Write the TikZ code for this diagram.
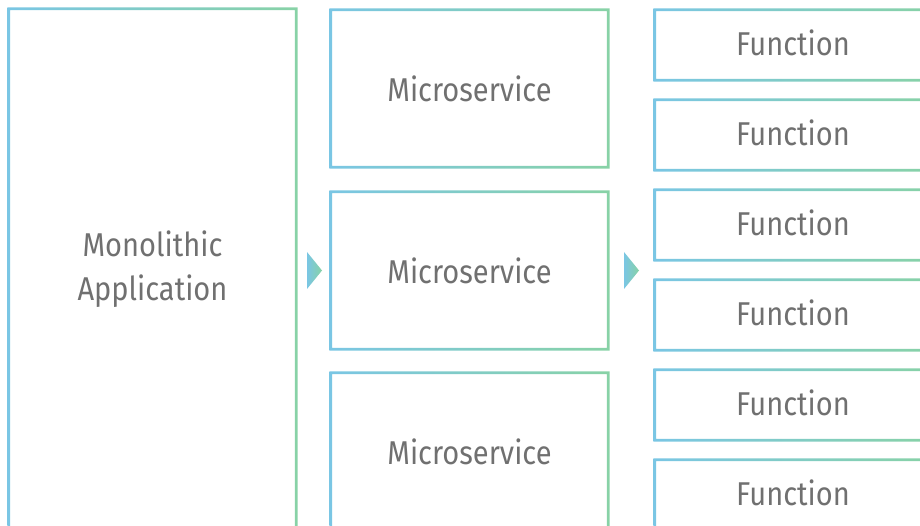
\documentclass[tikz,border=0pt]{standalone}
\usepackage{fontspec}
\setmainfont{Fira Sans}[FakeStretch=0.88]
\usepackage{xcolor}

\definecolor{boxblue}{RGB}{122,198,228}
\definecolor{boxgreen}{RGB}{136,210,166}
\definecolor{txtgray}{RGB}{112,112,112}

\tikzset{
  lbl/.style={text=txtgray, font=\fontsize{33}{44}\selectfont, align=center, inner sep=0pt},
  fnlbl/.style={lbl, text depth=4pt, minimum width=276pt, minimum height=70pt},
  ring/.style={left color=boxblue, right color=boxgreen, even odd rule},
}

% gradient border round a named node
\newcommand{\boxring}[1]{%
  \shade[ring] ([shift={(-1.4,-1.4)}]#1.north west) rectangle ([shift={(1.4,1.4)}]#1.south east)
               ([shift={(1.4,1.4)}]#1.north west) rectangle ([shift={(-1.4,-1.4)}]#1.south east);}

\begin{document}
\begin{tikzpicture}[x=1pt, y=-1pt]
\useasboundingbox (0,0) rectangle (920,526);
\clip (0,0) rectangle (920,526);

\node[lbl, minimum width=287pt, minimum height=521pt] (mono) at (152.5,269.5) {Monolithic\\Application};

\node[lbl, minimum width=277pt, minimum height=157pt] (ms1) at (469.5,88.5) {Microservice};
\node[lbl, minimum width=277pt, minimum height=157pt] (ms2) at (469.5,270.5) {Microservice};
\node[lbl, minimum width=277pt, minimum height=157pt] (ms3) at (469.5,451.5) {Microservice};

\node[fnlbl] (fn1) at (793,45) {Function};
\node[fnlbl] (fn2) at (793,135) {Function};
\node[fnlbl] (fn3) at (793,225) {Function};
\node[fnlbl] (fn4) at (793,315) {Function};
\node[fnlbl] (fn5) at (793,405) {Function};
\node[fnlbl] (fn6) at (793,495) {Function};

\boxring{mono}
\boxring{ms1}
\boxring{ms2}
\boxring{ms3}
\boxring{fn1}
\boxring{fn2}
\boxring{fn3}
\boxring{fn4}
\boxring{fn5}
\boxring{fn6}

\coordinate (ar1) at (307,270.5);
\coordinate (ar2) at (624,270.5);

\shade[ring] (ar1) ++(0,-18.5) -- ++(15,18.5) -- ++(-15,18.5) -- cycle;
\shade[ring] (ar2) ++(0,-18.5) -- ++(15,18.5) -- ++(-15,18.5) -- cycle;
\end{tikzpicture}
\end{document}
